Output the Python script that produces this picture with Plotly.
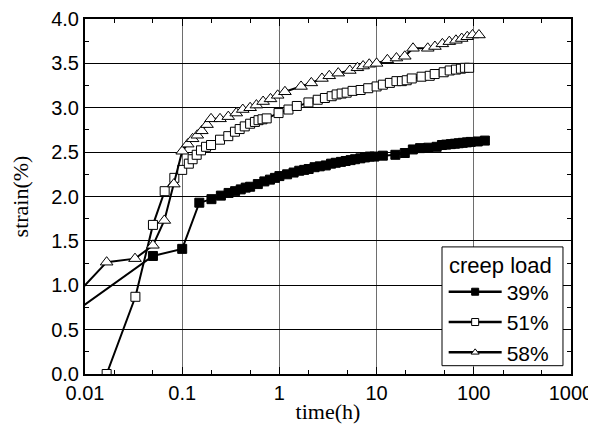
import plotly.graph_objects as go

# --------------------------------------------------------
# Data (time in h, strain in %)
# --------------------------------------------------------

t_39 = [0.001, 0.05, 0.1, 0.15, 0.2, 0.25, 0.3, 0.35, 0.4, 0.45, 0.5, 0.6, 0.7,
        0.8, 0.9, 1.0, 1.2, 1.4, 1.6, 1.8, 2.0, 2.3, 2.6, 3.0, 3.4, 3.8, 4.3,
        4.8, 5.4, 6.0, 6.8, 7.6, 8.5, 9.5, 11.6, 15.6, 19.5, 23.6, 28, 34,
        41.5, 47, 52, 58, 64, 70, 77, 85, 93, 110, 130]
s_39 = [0.0, 1.33, 1.41, 1.93, 1.97, 2.01, 2.04, 2.06, 2.08, 2.10, 2.11, 2.14,
        2.17, 2.19, 2.21, 2.23, 2.25, 2.27, 2.29, 2.30, 2.31, 2.33, 2.34, 2.35,
        2.37, 2.38, 2.39, 2.40, 2.41, 2.42, 2.43, 2.44, 2.45, 2.45, 2.46, 2.47,
        2.49, 2.53, 2.545, 2.55, 2.56, 2.58, 2.585, 2.59, 2.595, 2.60, 2.605,
        2.61, 2.615, 2.62, 2.63]

t_51 = [0.0167, 0.033, 0.05, 0.066, 0.083, 0.1, 0.117, 0.128, 0.141, 0.156,
        0.176, 0.198, 0.245, 0.298, 0.349, 0.39, 0.44, 0.50, 0.56, 0.61, 0.67,
        0.74, 0.98, 1.24, 1.51, 1.99, 2.48, 2.94, 3.45, 3.88, 4.37, 4.92, 5.66,
        6.85, 8.2, 10, 11.6, 13.7, 16, 18.2, 20.4, 23, 29, 35.2, 39.6, 49,
        56.5, 65.5, 73.7, 81, 89.5]
s_51 = [0.0, 0.87, 1.68, 2.06, 2.21, 2.30, 2.37, 2.42, 2.47, 2.52, 2.56, 2.58,
        2.64, 2.68, 2.73, 2.76, 2.79, 2.82, 2.84, 2.86, 2.87, 2.88, 2.94, 2.98,
        3.02, 3.06, 3.09, 3.11, 3.13, 3.15, 3.16, 3.17, 3.19, 3.20, 3.22, 3.24,
        3.26, 3.28, 3.30, 3.30, 3.31, 3.33, 3.35, 3.36, 3.38, 3.40, 3.42, 3.43,
        3.44, 3.45, 3.45]

t_58 = [0.0014, 0.0167, 0.0327, 0.05, 0.0655, 0.082, 0.1, 0.114, 0.128, 0.143,
        0.159, 0.18, 0.198, 0.245, 0.298, 0.36, 0.42, 0.50, 0.58, 0.68, 0.81,
        0.96, 1.14, 1.67, 2.13, 2.74, 3.26, 4.03, 5.3, 6.35, 7.26, 8.4, 10,
        12.9, 16, 19.5, 23.7, 33.6, 39.8, 47.5, 56, 65.5, 75, 85.6, 97, 113]
s_58 = [0.0, 1.26, 1.30, 1.45, 1.73, 2.14, 2.51, 2.59, 2.65, 2.69, 2.74, 2.81,
        2.875, 2.875, 2.90, 2.94, 2.98, 3.00, 3.03, 3.07, 3.10, 3.14, 3.18,
        3.24, 3.28, 3.33, 3.36, 3.39, 3.42, 3.45, 3.47, 3.49, 3.50, 3.54, 3.56,
        3.58, 3.67, 3.67, 3.69, 3.72, 3.745, 3.76, 3.78, 3.80, 3.82, 3.82]

x_tickvals = [0.01, 0.1, 1, 10, 100, 1000]
x_ticktext = ["0.01", "0.1", "1", "10", "100", "1000"]
y_tickvals = [0.0, 0.5, 1.0, 1.5, 2.0, 2.5, 3.0, 3.5, 4.0]

SANS = "Liberation Sans, Arial, sans-serif"
SERIF = "Liberation Serif, Times New Roman, serif"


# --------------------------------------------------------
# Figure
# --------------------------------------------------------

fig = go.Figure()

series = [
    ("39%", t_39, s_39, "square", "black", 9),
    ("51%", t_51, s_51, "square", "white", 9),
    ("58%", t_58, s_58, "triangle-up", "white", 11),
]

for name, t, s, symbol, fill, size in series:
    fig.add_trace(
        go.Scatter(
            x=t,
            y=s,
            mode="lines+markers",
            name=name,
            showlegend=False,
            line=dict(color="black", width=2),
            marker=dict(
                symbol=symbol,
                size=size,
                color=fill,
                line=dict(color="black", width=1)
            )
        )
    )

# legend entries with the smaller legend symbols
for name, t, s, symbol, fill, size in series:
    fig.add_trace(
        go.Scatter(
            x=[None],
            y=[None],
            mode="lines+markers",
            name=name,
            line=dict(color="black", width=2.5),
            marker=dict(
                symbol=symbol,
                size=7,
                color=fill,
                line=dict(color="black", width=1)
            )
        )
    )

# legend box + title drawn by hand (plotly pads the legend title too much)
fig.add_shape(
    type="rect",
    xref="paper", yref="paper",
    x0=0.7346, x1=0.9835, y0=0.0234, y1=0.358,
    line=dict(color="black", width=1),
    fillcolor="white",
    layer="above"
)

fig.add_annotation(
    text="creep load",
    xref="paper", yref="paper",
    x=0.745, y=0.306,
    xanchor="left", yanchor="middle",
    showarrow=False,
    font=dict(family=SANS, size=22)
)

# the page body adds an 8px offset, so the figure is 8px smaller
fig.update_layout(
    width=588,
    height=437,
    margin=dict(l=77, r=25, t=11, b=71),
    paper_bgcolor="white",
    plot_bgcolor="white",
    font=dict(family=SANS, size=20, color="black"),
    legend=dict(
        x=0.738,
        y=0.004,
        xanchor="left",
        yanchor="bottom",
        bgcolor="rgba(0,0,0,0)",
        borderwidth=0,
        itemwidth=53,
        tracegroupgap=0,
        font=dict(family=SANS, size=21)
    )
)

fig.update_xaxes(
    type="log",
    range=[-2, 3],
    automargin=False,
    tickvals=x_tickvals,
    ticktext=x_ticktext,
    ticks="inside",
    ticklen=7,
    tickcolor="black",
    showline=True,
    linecolor="black",
    linewidth=2,
    mirror="allticks",
    showgrid=True,
    gridcolor="#6e6e6e",
    gridwidth=1,
    zeroline=False,
    minor=dict(ticks="inside", ticklen=4, tickcolor="black", showgrid=False),
    title=dict(text="time(h)", font=dict(family=SERIF, size=22), standoff=1)
)

fig.update_yaxes(
    range=[0, 4],
    automargin=False,
    tickvals=y_tickvals,
    tickformat=".1f",
    ticks="inside",
    ticklen=7,
    tickcolor="black",
    showline=True,
    linecolor="black",
    linewidth=2,
    mirror="allticks",
    showgrid=True,
    gridcolor="black",
    gridwidth=1,
    zeroline=False,
    minor=dict(dtick=0.25, ticks="inside", ticklen=4, tickcolor="black",
               showgrid=False),
    title=dict(text="strain(%)", font=dict(family=SERIF, size=22), standoff=24)
)

fig.write_html("out.html")
